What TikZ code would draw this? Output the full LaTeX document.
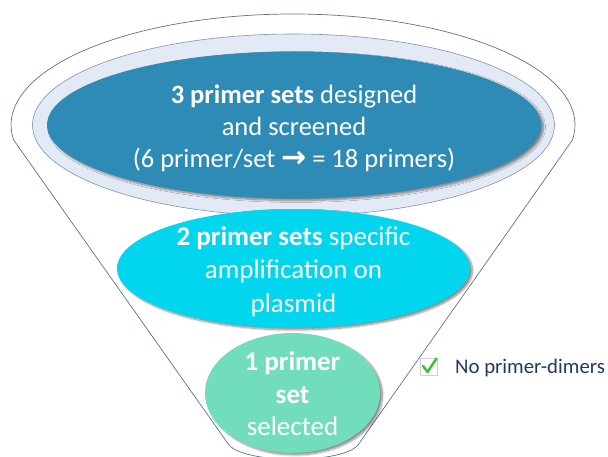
\documentclass[tikz,border=0pt]{standalone}
\usepackage{fontspec}
\setmainfont{Carlito}
\newfontfamily\arrowfont{DejaVu Sans}
\usetikzlibrary{shapes.geometric,shadows.blur}
\definecolor{rimline}{HTML}{5C7293}
\definecolor{ringfill}{HTML}{E3EAF5}
\definecolor{ringline}{HTML}{7F93B0}
\definecolor{darkblue}{HTML}{2E8BB6}
\definecolor{cyanfill}{HTML}{02D6EE}
\definecolor{mintfill}{HTML}{72DDBC}
\definecolor{navytext}{HTML}{1F3864}
\definecolor{checkgreen}{HTML}{3DBE3A}
\tikzset{
  funnelline/.style={draw=rimline, line width=0.7pt, line join=round},
  layer/.style={ellipse, draw=none, inner sep=0pt,
    blur shadow={shadow xshift=2.5pt, shadow yshift=-2pt, shadow blur steps=8, shadow opacity=45}},
  label/.style={text=white, align=center, inner sep=0pt},
}
\begin{document}
\begin{tikzpicture}[x=1pt,y=1pt]
\useasboundingbox (0,0) rectangle (608,456);
% funnel outline
\draw[funnelline] (13.6,316) -- (229,11) .. controls (245,-8) and (342,-8) .. (358,11)
  -- (572.4,316) arc[start angle=-7.77, end angle=187.77, x radius=282pt, y radius=111pt];
% inner rim ring
\node[ellipse, fill=ringfill, draw=ringline, line width=0.6pt, minimum width=522pt, minimum height=182pt, inner sep=0pt] (ring) at (293.5,331) {};
% top layer
\node[layer, fill=darkblue, minimum width=494pt, minimum height=147pt] (top) at (294,331) {};
\node[label, font=\fontsize{26.5}{32}\selectfont] (toptext) at (294,327.5)
  {\textbf{3 primer sets} designed\\and screened\\(6 primer/set {\arrowfont\bfseries\fontsize{30}{30}\selectfont →} = 18 primers)};
% middle layer
\node[layer, fill=cyanfill, minimum width=353pt, minimum height=119pt] (mid) at (293.5,187.5) {};
\node[label, font=\fontsize{27}{33.5}\selectfont] (midtext) at (293.5,184.5)
  {\textbf{2 primer sets} specific\\amplification on\\plasmid};
% bottom layer
\node[layer, fill=mintfill, minimum width=175pt, minimum height=120pt] (bot) at (292.5,63) {};
\node[label, font=\fontsize{27}{32.5}\selectfont] (bottext) at (292.5,62)
  {\textbf{1 primer}\\\textbf{set}\\selected};
% checkbox and note
\node[draw=black!18, fill=white, line width=0.6pt, minimum width=17pt, minimum height=17pt, inner sep=0pt] (box) at (429,89.5) {};
\draw[checkgreen, line width=2.4pt, line cap=round, line join=round]
  ([shift={(-6,0.5)}]box.center) -- ([shift={(-1.5,-5.5)}]box.center) -- ([shift={(7.5,8)}]box.center);
\node[anchor=west, text=navytext, font=\fontsize{20.8}{20.8}\selectfont, inner sep=0pt] (note) at (455,88) {No primer-dimers};
\end{tikzpicture}
\end{document}
